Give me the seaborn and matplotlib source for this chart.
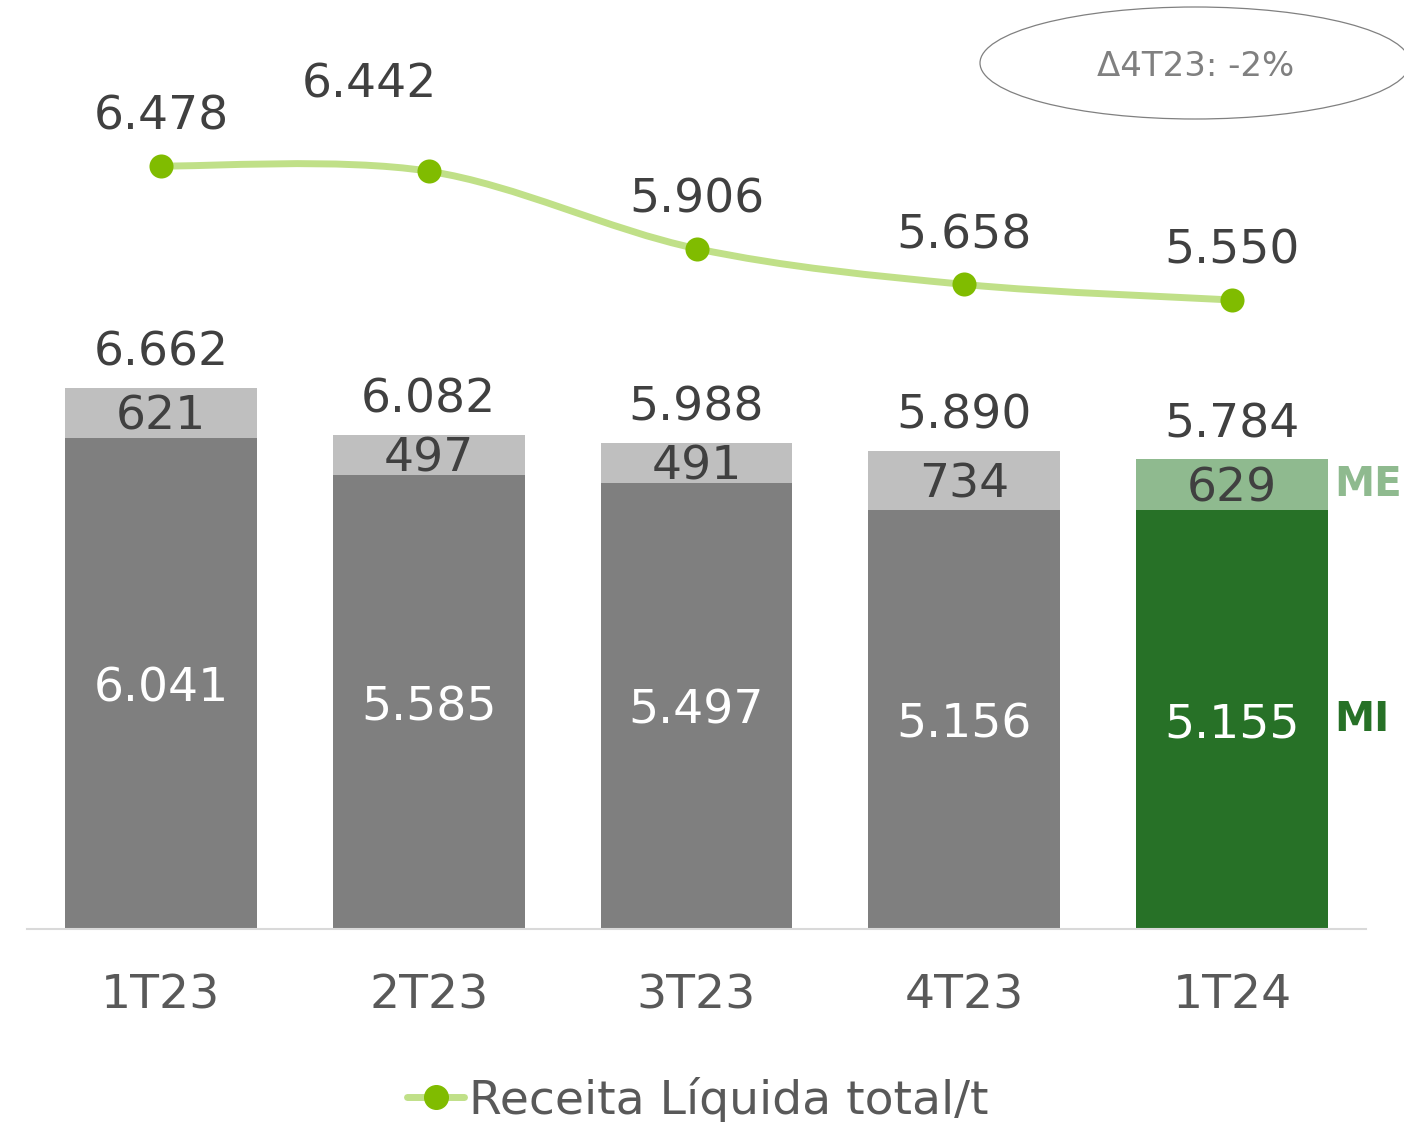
import numpy as np
import pandas as pd
import matplotlib
matplotlib.use("Agg")
import matplotlib.pyplot as plt
from matplotlib.patches import Ellipse, PathPatch
from matplotlib.path import Path
from matplotlib.lines import Line2D
import seaborn as sns

# ---- data ----
quarters = ["1T23", "2T23", "3T23", "4T23", "1T24"]
mi_values = [6041, 5585, 5497, 5156, 5155]
me_values = [621, 497, 491, 734, 629]
total_values = [6662, 6082, 5988, 5890, 5784]
receita_t = [6478, 6442, 5906, 5658, 5550]
delta_text = "Δ4T23: -2%"
legend_label = "Receita Líquida total/t"

def fmt(v):
    return f"{v:,}".replace(",", ".")

sns.set_theme(style="white")
plt.rcParams['font.family'] = ['DejaVu Sans']

W, H = 1404, 1122
fig = plt.figure(figsize=(W / 100, H / 100), dpi=100)
ax = fig.add_axes([27 / W, 1 - 929 / H, (1366 - 27) / W, (929 - 20) / H])

df = pd.DataFrame({"q": quarters, "mi": mi_values, "me": me_values, "tot": total_values})

me_colors = ["#bfbfbf"] * 4 + ["#8fba8f"]
mi_colors = ["#7f7f7f"] * 4 + ["#277127"]

sns.barplot(data=df, x="q", y="tot", hue="q", palette=me_colors, dodge=False,
            width=0.716, legend=False, ax=ax, saturation=1, linewidth=0)
sns.barplot(data=df, x="q", y="mi", hue="q", palette=mi_colors, dodge=False,
            width=0.716, legend=False, ax=ax, saturation=1, linewidth=0)

ax.set_xlim(-0.5, 4.5)
ax.set_ylim(0, 909 / 0.0812)
ax.set_ylabel("")
ax.set_xlabel("")
ax.set_yticks([])
for s in ["top", "right", "left"]:
    ax.spines[s].set_visible(False)
ax.spines["bottom"].set_color("#d9d9d9")
ax.spines["bottom"].set_linewidth(1.5)
ax.tick_params(axis="x", length=0, pad=32, labelsize=34, labelcolor="#595959")

txt_dark = "#404040"
fs = 34
dy = -3  # small downward nudge (points) for centred labels
for i, (mi, me, tot) in enumerate(zip(mi_values, me_values, total_values)):
    ax.annotate(fmt(mi), (i, mi / 2), xytext=(0, dy - 1), textcoords="offset points",
                ha="center", va="center", fontsize=fs, color="white")
    ax.annotate(fmt(me), (i, mi + me / 2), xytext=(0, dy), textcoords="offset points",
                ha="center", va="center", fontsize=fs, color=txt_dark)
    ax.annotate(fmt(tot), (i, tot), xytext=(0, 27 + dy + 1), textcoords="offset points",
                ha="center", va="center", fontsize=fs, color=txt_dark)

# side labels
ax.annotate("ME", (4.38, mi_values[-1] + me_values[-1] / 2), ha="left", va="center",
            fontsize=29, fontweight="bold", color="#8fba8f", annotation_clip=False)
ax.annotate("MI", (4.38, mi_values[-1] / 2), ha="left", va="center",
            fontsize=29, fontweight="bold", color="#277127", annotation_clip=False)

# line on secondary axis (smoothed path through the data points)
ax2 = ax.twinx()
xs = np.arange(len(quarters), dtype=float)
ys = np.array(receita_t, dtype=float)
pts = np.column_stack([xs, ys])
verts = [pts[0]]
codes = [Path.MOVETO]
n = len(pts)
for k in range(n - 1):
    p0 = pts[k - 1] if k > 0 else pts[k]
    p1 = pts[k]
    p2 = pts[k + 1]
    p3 = pts[k + 2] if k + 2 < n else pts[k + 1]
    c1 = p1 + (p2 - p0) / 6.0
    c2 = p2 - (p3 - p1) / 6.0
    verts += [c1, c2, p2]
    codes += [Path.CURVE4] * 3
ax2.add_patch(PathPatch(Path(verts, codes), facecolor="none", edgecolor="#c0e088",
                        linewidth=5, capstyle="round", zorder=2))
line_df = pd.DataFrame({"x": xs, "y": ys})
sns.scatterplot(data=line_df, x="x", y="y", ax=ax2, color="#80bc00", s=300,
                edgecolor="#80bc00", linewidth=0, zorder=3)
ax2.set_ylim(6478 - 763 / 0.1444, 6478 + 146 / 0.1444)
ax2.set_xlim(-0.5, 4.5)
ax2.set_yticks([])
ax2.set_ylabel("")
ax2.set_xlabel("")
for s in ["top", "right", "left", "bottom"]:
    ax2.spines[s].set_visible(False)

offsets = [(0, 35), (-43, 62), (0, 35), (0, 35), (0, 35)]
for i, v in enumerate(receita_t):
    ax2.annotate(fmt(v), (i, v), xytext=offsets[i], textcoords="offset points",
                 ha="center", va="center", fontsize=fs, color=txt_dark)

# ellipse annotation
ell = Ellipse((1195 / W, 1 - 63 / H), 430 / W, 112 / H, transform=fig.transFigure,
              fill=False, edgecolor="#808080", linewidth=0.9, clip_on=False)
fig.patches.append(ell)
fig.text(1196 / W, 1 - 66 / H, delta_text, ha="center", va="center",
         fontsize=24.5, color="#808080")

# legend
handle = Line2D([], [], color="#c0e088", linewidth=5, marker="o", markersize=17,
                markerfacecolor="#80bc00", markeredgecolor="#80bc00")
fig.legend([handle], [legend_label], loc="center", bbox_to_anchor=(0.497, 1 - 1100 / H),
           frameon=False, fontsize=34, handlelength=1.2, handletextpad=0.1,
           labelcolor="#595959")

fig.savefig("out.png", dpi=100)
